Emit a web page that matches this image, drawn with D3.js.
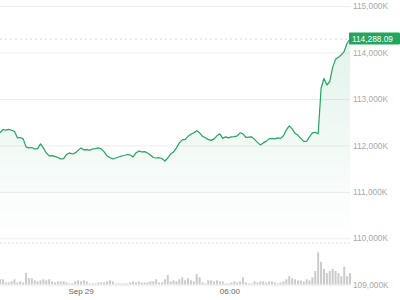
<!DOCTYPE html>
<html>
<head>
<meta charset="utf-8">
<script src="https://cdn.jsdelivr.net/npm/d3@7"></script>
<style>
  html, body { margin: 0; padding: 0; background: #fff; }
  svg { display: block; font-family: "Liberation Sans", Arial, sans-serif; }
</style>
</head>
<body>
<figure id="chart" style="margin:0"></figure>
<script>
// price every 7 minutes, starting Sep 28 20:45
const startTime = new Date(2025, 8, 28, 20, 45);
const stepMinutes = 7;

const prices = [
  112271, 112342, 112330, 112345, 112325, 112303, 112163, 112170, 112141, 111968,
  111946, 111955, 111924, 111930, 112033, 111946, 111838, 111773, 111780, 111765,
  111740, 111708, 111715, 111805, 111838, 111816, 111838, 111892, 111946, 111903,
  111910, 111898, 111924, 111930, 111946, 111924, 111859, 111773, 111740, 111708,
  111729, 111751, 111773, 111783, 111805, 111794, 111751, 111838, 111881, 111859,
  111865, 111838, 111794, 111740, 111729, 111735, 111719, 111664, 111729, 111816,
  111859, 111946, 112054, 112119, 112130, 112195, 112238, 112271, 112314, 112271,
  112195, 112163, 112130, 112108, 112141, 112206, 112249, 112152, 112184, 112163,
  112184, 112190, 112206, 112271, 112249, 112173, 112180, 112184, 112130, 112065,
  112011, 112054, 112087, 112141, 112152, 112141, 112163, 112152, 112206, 112336,
  112422, 112357, 112260, 112217, 112152, 112087, 112092, 112184, 112271, 112282,
  112249, 113224, 113440, 113300, 113375, 113679, 113852, 113895, 113950, 114025,
  114199, 114288.09
];

const volumes = [
  15, 15, 6, 6, 9, 15, 6, 9, 6, 33,
  18, 18, 12, 9, 12, 15, 12, 15, 9, 6,
  9, 9, 9, 6, 3, 3, 9, 12, 9, 12,
  9, 3, 3, 3, 6, 6, 6, 9, 12, 9,
  3, 3, 3, 3, 3, 6, 9, 6, 9, 6,
  6, 6, 9, 9, 15, 6, 6, 15, 27, 9,
  12, 9, 15, 21, 12, 18, 12, 9, 30, 21,
  6, 3, 12, 12, 9, 12, 9, 9, 3, 3,
  6, 9, 6, 9, 21, 6, 3, 3, 9, 6,
  9, 9, 6, 9, 9, 6, 3, 6, 9, 15,
  24, 18, 15, 12, 12, 9, 15, 12, 21, 39,
  93, 66, 45, 33, 39, 45, 39, 33, 24, 51,
  24, 33
];

const priceTicks = [109000, 110000, 111000, 112000, 113000, 114000, 115000];
const timeTicks = [new Date(2025, 8, 29, 0, 0), new Date(2025, 8, 29, 6, 0)];
const timeLabels = ["Sep 29", "06:00"];

const width = 400, height = 300;
const plotRight = 350;
const green = "#23a45f";

const data = prices.map((p, i) => ({
  t: new Date(startTime.getTime() + i * stepMinutes * 60000),
  price: p,
  vol: volumes[i]
}));

const svg = d3.select("figure#chart")
  .append("svg")
  .attr("width", width)
  .attr("height", height);

const x = d3.scaleTime()
  .domain(d3.extent(data, d => d.t))
  .range([0, plotRight]);

const y = d3.scaleLinear()
  .domain([109000, 115000])
  .range([284.8, 6]);

const yVol = d3.scaleLinear()
  .domain([0, 120])
  .range([284.5, 243]);

// gradient under the line
const defs = svg.append("defs");
const grad = defs.append("linearGradient")
  .attr("id", "areaFill")
  .attr("gradientUnits", "userSpaceOnUse")
  .attr("x1", 0).attr("y1", y(114300)).attr("x2", 0).attr("y2", y(110000));
grad.append("stop").attr("offset", "0%").attr("stop-color", green).attr("stop-opacity", 0.13);
grad.append("stop").attr("offset", "100%").attr("stop-color", green).attr("stop-opacity", 0);

// Add Y axis with gridlines
const yAxis = svg.append("g")
  .attr("transform", "translate(" + plotRight + ",0)")
  .call(d3.axisRight(y)
    .tickValues(priceTicks)
    .tickSize(-plotRight)
    .tickPadding(3)
    .tickFormat(d => d3.format(",")(d) + "K"));
yAxis.select(".domain").remove();
yAxis.selectAll(".tick line").attr("stroke", "#ededed");
yAxis.selectAll(".tick text")
  .attr("fill", "#a8a8a8")
  .style("font-size", "8.3px");

// separator above the volume bars
svg.append("line")
  .attr("x1", 0).attr("x2", plotRight)
  .attr("y1", yVol.range()[1]).attr("y2", yVol.range()[1])
  .attr("stroke", "#e0e0e0")
  .attr("stroke-dasharray", "2,2");

// volume bars
svg.append("g")
  .selectAll("rect")
  .data(data)
  .enter()
  .append("rect")
  .attr("x", d => x(d.t) - 1)
  .attr("width", 2)
  .attr("y", d => yVol(d.vol))
  .attr("height", d => yVol(0) - yVol(d.vol))
  .attr("fill", "#cbcbcb");

// Add area + line
const area = d3.area()
  .x(d => x(d.t))
  .y0(y(109000))
  .y1(d => y(d.price));
svg.append("path")
  .datum(data)
  .attr("d", area)
  .attr("fill", "url(#areaFill)");

const line = d3.line()
  .x(d => x(d.t))
  .y(d => y(d.price));
svg.append("path")
  .datum(data)
  .attr("d", line)
  .attr("fill", "none")
  .attr("stroke", green)
  .attr("stroke-width", 1.2)
  .attr("stroke-linejoin", "round");

// current price
const last = data[data.length - 1];
svg.append("line")
  .attr("x1", 0).attr("x2", plotRight)
  .attr("y1", y(last.price)).attr("y2", y(last.price))
  .attr("stroke", "#d6d6d6")
  .attr("stroke-dasharray", "2,3");
svg.append("rect")
  .attr("x", plotRight - 1)
  .attr("y", y(last.price) - 6.5)
  .attr("width", width - plotRight + 1)
  .attr("height", 12)
  .attr("rx", 1)
  .attr("fill", green);
svg.append("text")
  .attr("x", plotRight + 2)
  .attr("y", y(last.price))
  .attr("dy", "0.35em")
  .attr("fill", "#fff")
  .style("font-size", "8.3px")
  .text(d3.format(",.2f")(last.price));

// Add X axis
const xAxis = svg.append("g")
  .attr("transform", "translate(0," + y(109000) + ")")
  .call(d3.axisBottom(x)
    .tickValues(timeTicks)
    .tickSize(0)
    .tickPadding(4)
    .tickFormat((d, i) => timeLabels[i]));
xAxis.select(".domain").remove();
xAxis.selectAll(".tick text")
  .attr("fill", "#666")
  .style("font-size", "8px");
</script>
</body>
</html>
